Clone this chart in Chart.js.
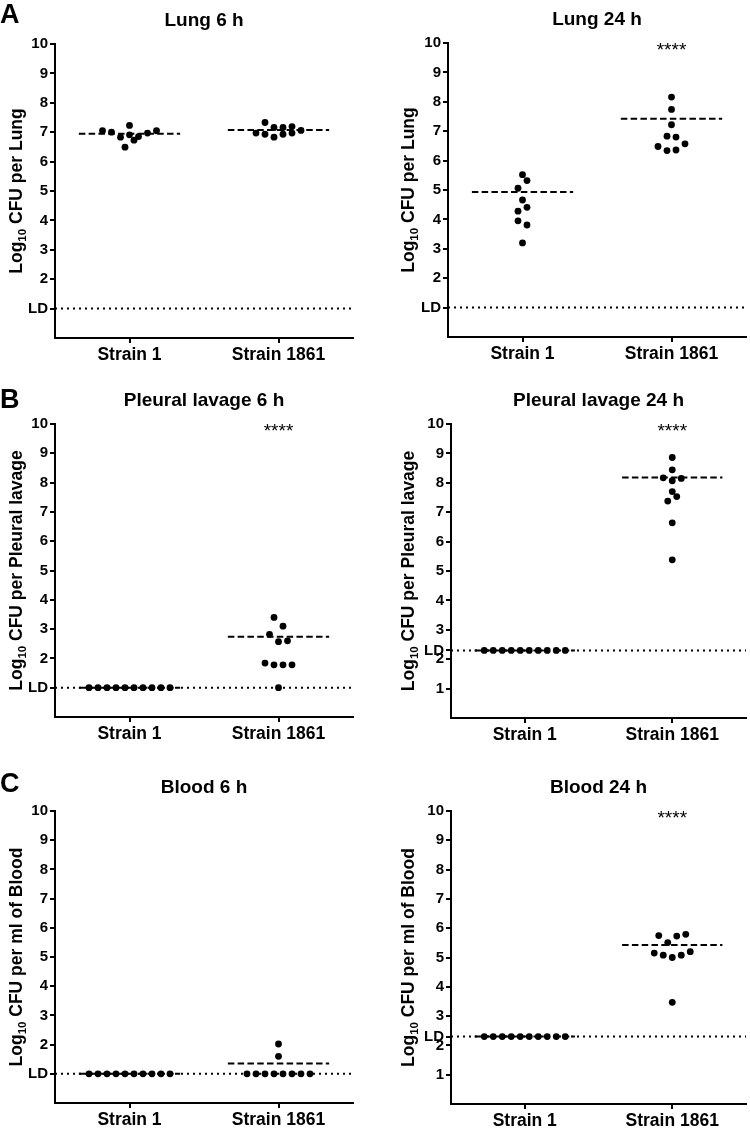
<!DOCTYPE html>
<html>
<head>
<meta charset="utf-8">
<script src="https://cdn.jsdelivr.net/npm/chart.js@4.4.1/dist/chart.umd.min.js"></script>
<style>
  html, body { margin: 0; padding: 0; background: #fff; }
  #fig { position: relative; width: 750px; height: 1129px; overflow: hidden; }
  #fig canvas { position: absolute; }
</style>
</head>
<body>
<div id="fig"></div>
<script>
// ---- data (log10 CFU; values at the limit of detection = LD) ----
const categories = ['Strain 1', 'Strain 1861'];
const ldLow = 1;
const ldHigh = 2.3;

const lung6Strain1 = [7.05, 7.00, 6.83, 6.91, 7.23, 6.49, 6.85, 6.73, 6.97, 7.05];
const lung6Strain1861 = [6.97, 7.33, 6.93, 7.16, 6.83, 6.93, 7.16, 6.97, 7.19, 7.06];
const lung24Strain1 = [5.06, 4.28, 3.95, 5.52, 4.66, 3.20, 5.32, 4.41, 3.81];
const lung24Strain1861 = [6.48, 6.83, 6.34, 8.16, 7.74, 7.22, 6.80, 6.36, 6.57];

const pleural6Strain1 = [1, 1, 1, 1, 1, 1, 1, 1, 1, 1];
const pleural6Strain1861 = [1.84, 2.82, 3.40, 1.78, 2.57, 1.00, 3.10, 1.78, 2.60, 1.78];
const pleural24Strain1 = [2.3, 2.3, 2.3, 2.3, 2.3, 2.3, 2.3, 2.3, 2.3, 2.3];
const pleural24Strain1861 = [8.17, 7.38, 8.86, 8.44, 8.07, 7.70, 6.64, 5.38, 7.53, 8.15];

const blood6Strain1 = [1, 1, 1, 1, 1, 1, 1, 1, 1, 1];
const blood6Strain1861 = [1, 1, 1, 1, 2.02, 1.60, 1, 1, 1, 1];
const blood24Strain1 = [2.3, 2.3, 2.3, 2.3, 2.3, 2.3, 2.3, 2.3, 2.3, 2.3];
const blood24Strain1861 = [5.15, 5.75, 5.08, 5.51, 5.00, 3.47, 5.73, 5.08, 5.79, 5.20];

const ticksLowLD = [1, 2, 3, 4, 5, 6, 7, 8, 9, 10];        // LD sits on 1
const ticksHighLD = [1, 2, 2.3, 3, 4, 5, 6, 7, 8, 9, 10];  // LD sits at 2.3

const FONT = '"Liberation Sans", Arial, Helvetica, sans-serif';
const DOT_R = 3.4;
const DOT_STEP = 9;    // px between dots of one row
const ROW_PX = 9;      // dots closer than this vertically share a row
const MEAN_HALF = 0.34;

const panels = [
  {letter: 'A', title: 'Lung 6 h', yTitle: 'CFU per Lung', ld: ldLow, ticks: ticksLowLD,
   groups: [lung6Strain1, lung6Strain1861], stars: ['', ''],
   box: [0, 0, 375, 370], area: [55, 353, 44, 338], yTitleX: 22, letterY: 23},
  {letter: '', title: 'Lung 24 h', yTitle: 'CFU per Lung', ld: ldLow, ticks: ticksLowLD,
   groups: [lung24Strain1, lung24Strain1861], stars: ['', '****'],
   box: [375, 0, 375, 370], area: [73, 371, 43, 337], yTitleX: 39},
  {letter: 'B', title: 'Pleural lavage 6 h', yTitle: 'CFU per Pleural lavage', ld: ldLow, ticks: ticksLowLD,
   groups: [pleural6Strain1, pleural6Strain1861], stars: ['', '****'],
   box: [0, 370, 375, 380], area: [55, 353, 54, 347], yTitleX: 22, letterY: 38},
  {letter: '', title: 'Pleural lavage 24 h', yTitle: 'CFU per Pleural lavage', ld: ldHigh, ticks: ticksHighLD,
   groups: [pleural24Strain1, pleural24Strain1861], stars: ['', '****'],
   box: [375, 370, 375, 380], area: [76, 371, 54, 348], yTitleX: 39},
  {letter: 'C', title: 'Blood 6 h', yTitle: 'CFU per ml of Blood', ld: ldLow, ticks: ticksLowLD,
   groups: [blood6Strain1, blood6Strain1861], stars: ['', ''],
   box: [0, 750, 375, 379], area: [55, 353, 61, 353], yTitleX: 22, letterY: 42},
  {letter: '', title: 'Blood 24 h', yTitle: 'CFU per ml of Blood', ld: ldHigh, ticks: ticksHighLD,
   groups: [blood24Strain1, blood24Strain1861], stars: ['', '****'],
   box: [375, 750, 375, 379], area: [76, 371, 61, 354], yTitleX: 39}
];

// arithmetic mean of CFU shown on the log axis
function meanLog(vals) {
  return Math.log10(vals.reduce((s, v) => s + Math.pow(10, v), 0) / vals.length);
}

// column scatter: dots of similar height are put side by side
function swarm(chart, vals, center) {
  const xs = chart.scales.x, ys = chart.scales.y;
  const pxPerUnit = xs.getPixelForValue(2) - xs.getPixelForValue(1);
  const order = vals.map((v, i) => i).sort((a, b) => vals[a] - vals[b] || a - b);
  const rows = [];
  let row = null, startPx = 0;
  order.forEach(i => {
    const py = ys.getPixelForValue(vals[i]);
    if (row && startPx - py <= ROW_PX) {
      row.push(i);
    } else {
      row = [i];
      rows.push(row);
      startPx = py;
    }
  });
  const pts = new Array(vals.length);
  rows.forEach(r => {
    r.sort((a, b) => a - b);
    r.forEach((i, k) => {
      pts[i] = {x: center + (k - (r.length - 1) / 2) * DOT_STEP / pxPerUnit, y: vals[i]};
    });
  });
  return pts;
}

const figureText = {
  id: 'figureText',
  afterDraw(chart, args, o) {
    const {ctx, chartArea: a, scales: {x, y}} = chart;
    ctx.save();
    ctx.fillStyle = '#000';
    if (o.letter) {
      ctx.font = 'bold 27px ' + FONT;
      ctx.textAlign = 'left';
      ctx.textBaseline = 'alphabetic';
      ctx.fillText(o.letter, 0, o.letterY);
    }
    o.stars.forEach((s, k) => {
      if (!s) return;
      ctx.font = '19px ' + FONT;
      ctx.textAlign = 'center';
      ctx.textBaseline = 'top';
      ctx.fillText(s, x.getPixelForValue(k + 1), y.getPixelForValue(10) - 2);
    });

    // y title with subscript
    const big = 'bold 17.5px ' + FONT, small = 'bold 11.5px ' + FONT;
    ctx.translate(o.yTitleX, (a.top + a.bottom) / 2);
    ctx.rotate(-Math.PI / 2);
    ctx.textAlign = 'left';
    ctx.textBaseline = 'alphabetic';
    ctx.font = big;
    const w1 = ctx.measureText('Log').width;
    const w3 = ctx.measureText(' ' + o.yTitle).width;
    ctx.font = small;
    const w2 = ctx.measureText('10').width;
    let sx = -(w1 + w2 + w3) / 2;
    ctx.font = big;
    ctx.fillText('Log', sx, 0);
    sx += w1;
    ctx.font = small;
    ctx.fillText('10', sx, 4);
    sx += w2;
    ctx.font = big;
    ctx.fillText(' ' + o.yTitle, sx, 0);
    ctx.restore();
  }
};

function axisStyle() {
  return {
    grid: {drawOnChartArea: false, drawTicks: true, tickLength: 5, color: '#000', lineWidth: 2},
    border: {display: true, color: '#000', width: 2}
  };
}

const fig = document.getElementById('fig');
const X_AXIS_H = 24;
const TITLE_SIZE = 19;
const TITLE_GAP = 12.2;

panels.forEach(p => {
  const [bx, by, bw, bh] = p.box;
  const [L, R, T, B] = p.area;
  const canvas = document.createElement('canvas');
  canvas.width = bw;
  canvas.height = bh;
  canvas.style.left = bx + 'px';
  canvas.style.top = by + 'px';
  fig.appendChild(canvas);

  const means = p.groups.map(meanLog);
  const meanLine = k => ({
    data: [{x: k + 1 - MEAN_HALF, y: means[k]}, {x: k + 1 + MEAN_HALF, y: means[k]}],
    showLine: true, pointRadius: 0, borderColor: '#000', borderWidth: 2,
    borderDash: [6.5, 3.3], order: 1
  });

  const chart = new Chart(canvas, {
    type: 'scatter',
    data: {
      datasets: [
        {data: p.groups[0].map(v => ({x: 1, y: v})), pointRadius: DOT_R, backgroundColor: '#000', borderWidth: 0, order: 0},
        {data: p.groups[1].map(v => ({x: 2, y: v})), pointRadius: DOT_R, backgroundColor: '#000', borderWidth: 0, order: 0},
        meanLine(0),
        meanLine(1),
        {data: [{x: 0.5, y: p.ld}, {x: 2.5, y: p.ld}], showLine: true, pointRadius: 0,
         borderColor: '#000', borderWidth: 2, borderDash: [2, 4], order: 2}
      ]
    },
    options: {
      responsive: false,
      animation: false,
      events: [],
      layout: {
        padding: {
          top: T - TITLE_SIZE * 1.2 - TITLE_GAP,
          left: 0,
          right: bw - R,
          bottom: Math.max(0, bh - B - X_AXIS_H)
        }
      },
      plugins: {
        legend: {display: false},
        tooltip: {enabled: false},
        title: {
          display: true, text: p.title, fullSize: false, color: '#000',
          font: {family: FONT, size: TITLE_SIZE, weight: 'bold', lineHeight: 1.2},
          padding: {top: 0, bottom: TITLE_GAP}
        },
        figureText: {letter: p.letter, letterY: p.letterY, stars: p.stars, yTitle: p.yTitle, yTitleX: p.yTitleX}
      },
      scales: {
        x: {
          type: 'linear', min: 0.5, max: 2.5,
          afterBuildTicks: s => { s.ticks = [{value: 1}, {value: 2}]; },
          afterFit: s => { s.height = X_AXIS_H; },
          ticks: {
            callback: v => categories[Math.round(v) - 1],
            autoSkip: false, maxRotation: 0, color: '#000', padding: 2,
            font: {family: FONT, size: 17.5, weight: 'bold'}
          },
          ...axisStyle()
        },
        y: {
          type: 'linear', min: 0, max: 10,
          afterBuildTicks: s => { s.ticks = p.ticks.map(v => ({value: v})); },
          afterFit: s => { s.width = L; },
          ticks: {
            callback: v => (v === p.ld ? 'LD' : String(v)),
            autoSkip: false, color: '#000', padding: 2,
            font: {family: FONT, size: 15, weight: 'bold'}
          },
          ...axisStyle()
        }
      }
    },
    plugins: [figureText]
  });

  chart.data.datasets[0].data = swarm(chart, p.groups[0], 1);
  chart.data.datasets[1].data = swarm(chart, p.groups[1], 2);
  chart.update('none');
});
</script>
</body>
</html>
